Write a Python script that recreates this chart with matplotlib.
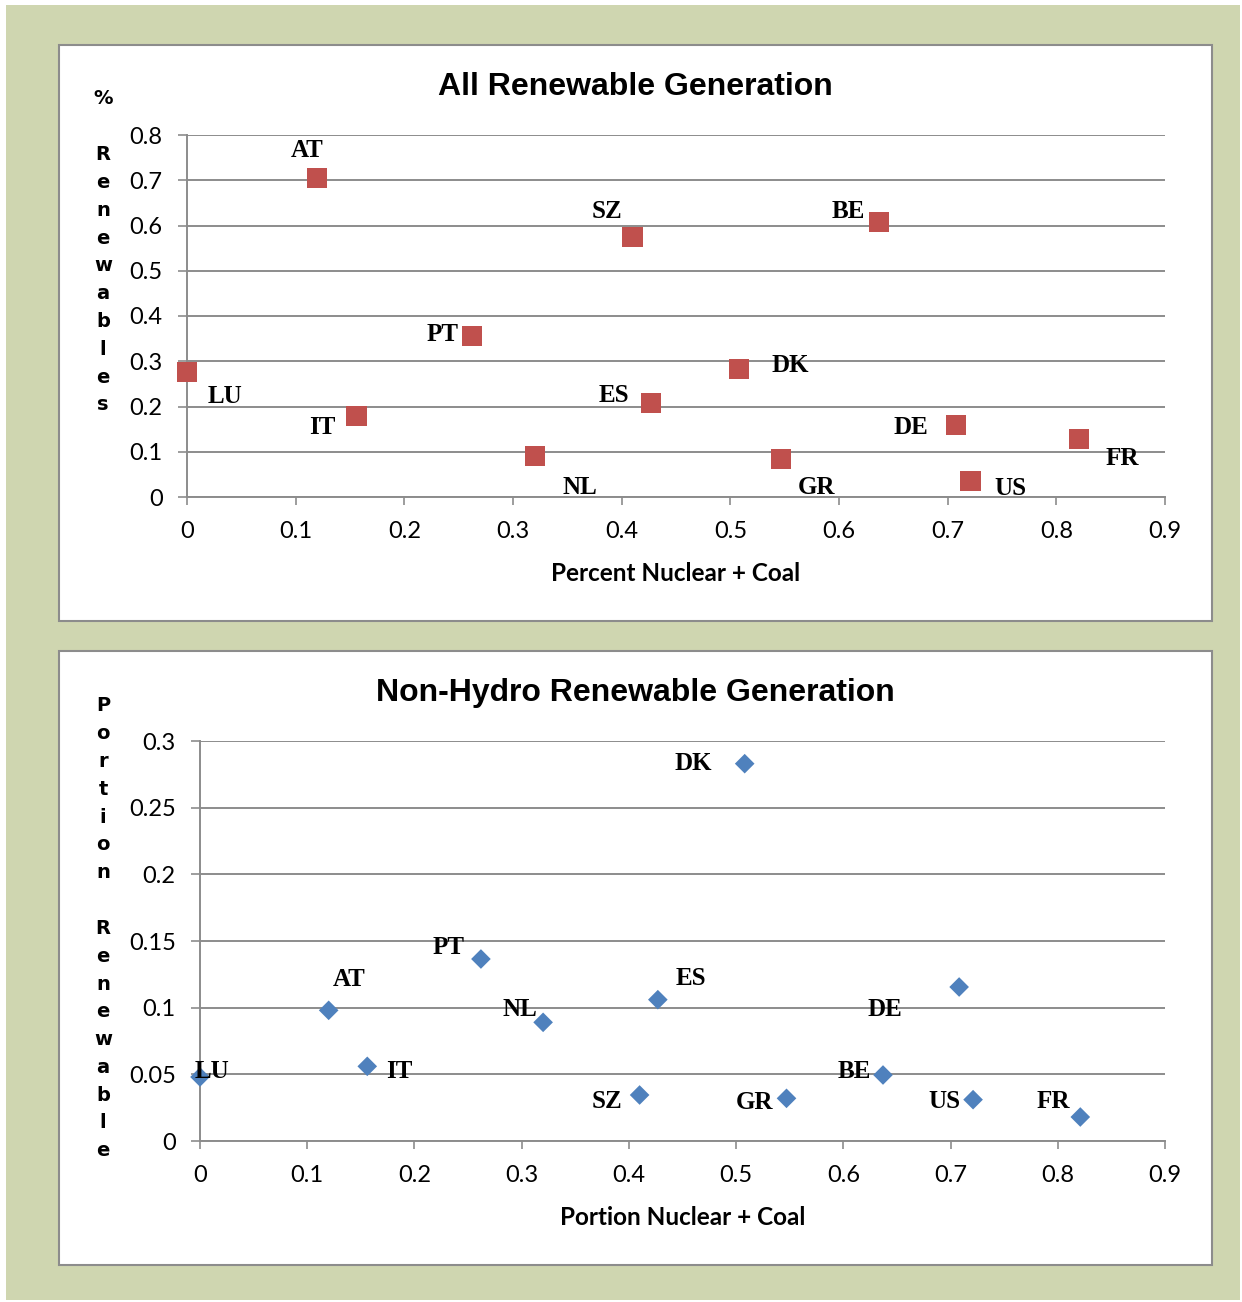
import matplotlib
matplotlib.use('Agg')
import matplotlib.pyplot as plt
from matplotlib.patches import Rectangle

# data
countries = ['AT', 'SZ', 'BE', 'PT', 'LU', 'DK', 'ES', 'IT', 'DE', 'FR', 'NL', 'GR', 'US']
nuclear_coal = [0.120, 0.410, 0.637, 0.262, 0.0, 0.508, 0.427, 0.156, 0.708, 0.821, 0.320, 0.547, 0.721]
renewables_all = [0.705, 0.575, 0.608, 0.356, 0.276, 0.283, 0.208, 0.179, 0.159, 0.128, 0.091, 0.084, 0.035]
renewables_nonhydro = [0.098, 0.0345, 0.0495, 0.1365, 0.048, 0.283, 0.106, 0.056, 0.1155, 0.018, 0.089, 0.032, 0.031]

top_yticks = [0, 0.1, 0.2, 0.3, 0.4, 0.5, 0.6, 0.7, 0.8]
top_ylabels = ['0', '0.1', '0.2', '0.3', '0.4', '0.5', '0.6', '0.7', '0.8']
bot_yticks = [0, 0.05, 0.1, 0.15, 0.2, 0.25, 0.3]
bot_ylabels = ['0', '0.05', '0.1', '0.15', '0.2', '0.25', '0.3']
xticks = [0, 0.1, 0.2, 0.3, 0.4, 0.5, 0.6, 0.7, 0.8, 0.9]
xlabels = ['0', '0.1', '0.2', '0.3', '0.4', '0.5', '0.6', '0.7', '0.8', '0.9']

# label offsets (pixels, label centre relative to marker)
top_offsets = {'AT': (-10, 29), 'SZ': (-26, 27), 'BE': (-31, 12), 'PT': (-29, 3),
               'LU': (38, -22), 'DK': (51, 5), 'ES': (-37, 9), 'IT': (-34, -9),
               'DE': (-45, 0), 'FR': (43, -17), 'NL': (45, -30), 'GR': (35, -27),
               'US': (40, -5)}
bot_offsets = {'AT': (20, 33), 'SZ': (-33, -5), 'BE': (-29, 6), 'PT': (-32, 13),
               'LU': (12, 8), 'DK': (-51, 2), 'ES': (33, 23), 'IT': (32, -3),
               'DE': (-74, -20), 'FR': (-27, 17), 'NL': (-23, 15), 'GR': (-32, -2),
               'US': (-29, 0)}

W, H = 1242, 1302
GRID = '#8c8c8c'
fig = plt.figure(figsize=(W / 100, H / 100), dpi=100, facecolor='white')


def box(x0, y0, x1, y1, **kw):
    # rectangle in image pixel coords (y down)
    r = Rectangle((x0 / W, 1 - y1 / H), (x1 - x0) / W, (y1 - y0) / H,
                  transform=fig.transFigure, **kw)
    fig.add_artist(r)


box(6, 5, 1240, 1300, facecolor='#CFD6B0', edgecolor='none', zorder=-10)
box(59, 45, 1212, 621, facecolor='white', edgecolor=GRID, lw=1.5, zorder=-5)
box(59, 651, 1212, 1265, facecolor='white', edgecolor=GRID, lw=1.5, zorder=-5)


def panel(rect, yvals, yticks, ylabels, offsets, marker, size, colour,
          title, title_y, xlabel, ylabel, ylab_top):
    x0, y0, x1, y1 = rect
    ax = fig.add_axes([x0 / W, 1 - y1 / H, (x1 - x0) / W, (y1 - y0) / H])
    ax.set_facecolor('white')
    ax.set_xlim(0, 0.9)
    ax.set_ylim(yticks[0], yticks[-1])
    for s in ['top', 'right']:
        ax.spines[s].set_visible(False)
    for s in ['left', 'bottom']:
        ax.spines[s].set_color(GRID)
        ax.spines[s].set_linewidth(1.4)
    ax.set_yticks(yticks)
    ax.set_yticklabels(ylabels)
    ax.set_xticks(xticks)
    ax.set_xticklabels(xlabels)
    ax.tick_params(axis='both', direction='out', color=GRID, width=1.2,
                   labelsize=17, labelfontfamily='Lato', colors='black')
    ax.tick_params(axis='x', length=6, pad=11, colors=GRID, labelcolor='black')
    ax.tick_params(axis='y', length=6.5, pad=11, colors=GRID, labelcolor='black')
    ax.yaxis.grid(True, color=GRID, lw=1.4)
    ax.set_axisbelow(True)
    ax.scatter(nuclear_coal, yvals, marker=marker, s=size, color=colour,
               edgecolors='none', zorder=3, clip_on=False)
    for c, xv, yv in zip(countries, nuclear_coal, yvals):
        dx, dy = offsets[c]
        ax.annotate(c, (xv, yv), xytext=(dx, dy - 8.5), textcoords='offset pixels',
                    ha='center', va='baseline', fontsize=18, fontweight='bold',
                    family='Liberation Serif', zorder=5, annotation_clip=False)
    ax.set_xlabel(xlabel, fontsize=17.5, fontweight='bold', family='Lato', labelpad=15)
    fig.text(635 / W, 1 - (title_y + 3) / H, title, ha='center', va='center',
             fontsize=23, fontweight='bold', family='Liberation Sans')
    for i, ch in enumerate(ylabel):
        fig.text(103 / W, 1 - (ylab_top + 1 + i * 27.8) / H, ch, ha='center',
                 va='center', fontsize=14, fontweight='bold', family='DejaVu Sans')
    return ax


panel((187, 135, 1165, 497), renewables_all, top_yticks, top_ylabels, top_offsets,
      's', 210, '#C0504D', 'All Renewable Generation', 84,
      'Percent Nuclear + Coal', '% Renewables', 98)
panel((200, 741, 1165, 1141), renewables_nonhydro, bot_yticks, bot_ylabels, bot_offsets,
      'D', 100, '#4F81BD', 'Non-Hydro Renewable Generation', 690,
      'Portion Nuclear + Coal', 'Portion Renewable', 705)

fig.savefig('out.png', dpi=100)
